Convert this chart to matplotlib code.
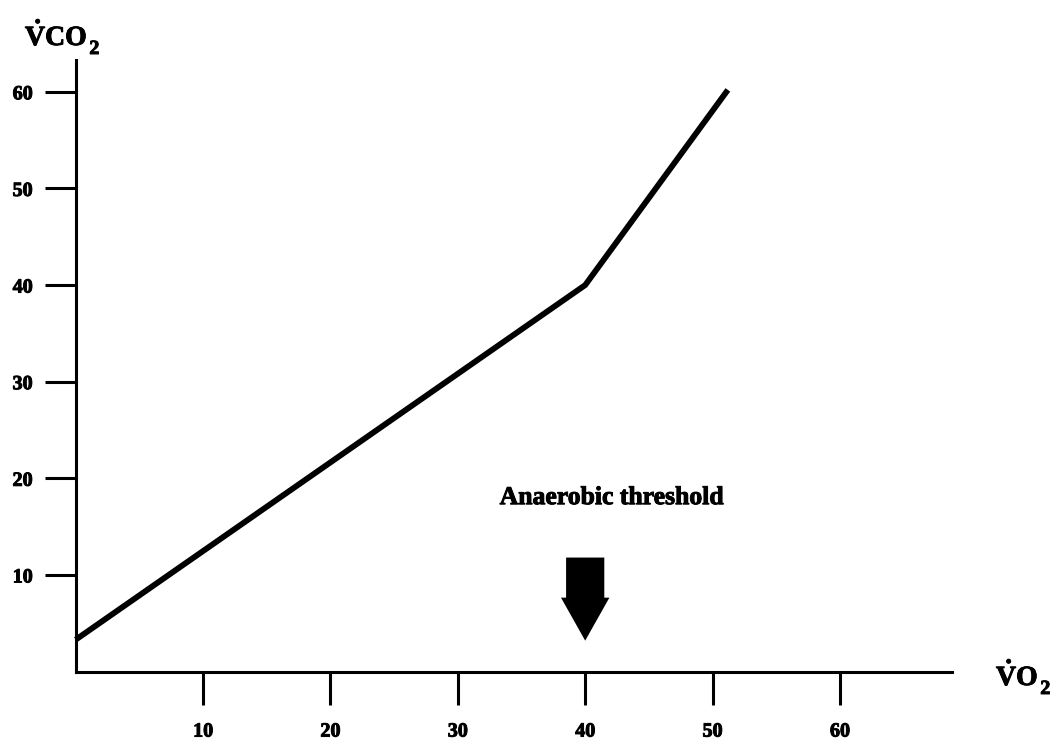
import matplotlib
matplotlib.use("Agg")
import matplotlib.pyplot as plt
import matplotlib.patheffects as pe
from matplotlib.patches import FancyArrow
from matplotlib.transforms import offset_copy

# V'O2 / V'CO2 relationship with a break at the anaerobic threshold
vo2 = [0, 40, 51.2]
vco2 = [3.3, 40, 60.2]
threshold_vo2 = 40
x_ticks = [10, 20, 30, 40, 50, 60]
y_ticks = [10, 20, 30, 40, 50, 60]
annotation = "Anaerobic threshold"

plt.rcParams["font.family"] = ["Liberation Serif", "DejaVu Serif"]
plt.rcParams["font.weight"] = "bold"
plt.rcParams["mathtext.fontset"] = "custom"
plt.rcParams["mathtext.rm"] = "Liberation Serif:bold"
plt.rcParams["mathtext.bf"] = "Liberation Serif:bold"
plt.rcParams["mathtext.it"] = "Liberation Serif:bold"

heavy = [pe.withStroke(linewidth=0.7, foreground="black")]

fig = plt.figure(figsize=(10.53, 7.41), dpi=100)
ax = fig.add_axes([0.0719, 0.0937, 0.8322, 0.8254])
ax.set_xlim(0, 68.8)
ax.set_ylim(0, 63.3)

ax.plot(vo2, vco2, color="black", lw=4.2, solid_capstyle="butt",
        solid_joinstyle="miter", clip_on=False)

for side in ("top", "right"):
    ax.spines[side].set_visible(False)
for side in ("left", "bottom"):
    ax.spines[side].set_linewidth(2.2)

ax.set_xticks(x_ticks)
ax.set_yticks(y_ticks)
ax.set_xticklabels([str(v) for v in x_ticks], fontsize=14.5, fontweight="bold")
ax.set_yticklabels([str(v) for v in y_ticks], fontsize=14.5, fontweight="bold")
for lab in ax.get_xticklabels() + ax.get_yticklabels():
    lab.set_path_effects(heavy)
ax.tick_params(axis="x", direction="out", length=24, width=2.2, pad=12)
ax.tick_params(axis="y", direction="out", length=22, width=2.2, pad=9)

# Arrow pointing down at the threshold on the V'O2 axis
arrow = FancyArrow(threshold_vo2, 11.8, 0, -8.6, width=3.0, head_width=3.8,
                   head_length=4.45, length_includes_head=True,
                   color="black", lw=0)
ax.add_patch(arrow)
ax.text(threshold_vo2 + 2.1, 18.0, annotation, ha="center", va="center",
        fontsize=18.5, fontweight="bold", path_effects=heavy)


def axis_title(x_px, baseline_px, body):
    """Dotted-V gas label with a lowered subscript 2 (pixel positions from top-left)."""
    W, H = fig.bbox.width, fig.bbox.height
    t = fig.text(x_px / W, 1 - baseline_px / H,
                 r"$\dot{\mathrm{V}}\mathrm{" + body + r"}$",
                 ha="left", va="baseline", fontsize=20, path_effects=heavy)
    fig.canvas.draw()
    ext = t.get_window_extent()
    sub_tr = offset_copy(fig.transFigure, fig=fig, x=2.0, y=-9.0, units="dots")
    fig.text(ext.x1 / W, 1 - baseline_px / H, "2", transform=sub_tr,
             ha="left", va="baseline", fontsize=14.5, path_effects=heavy)


axis_title(25, 45, "CO")
axis_title(996, 685, "O")

fig.savefig("out.png", dpi=100, facecolor="white")
